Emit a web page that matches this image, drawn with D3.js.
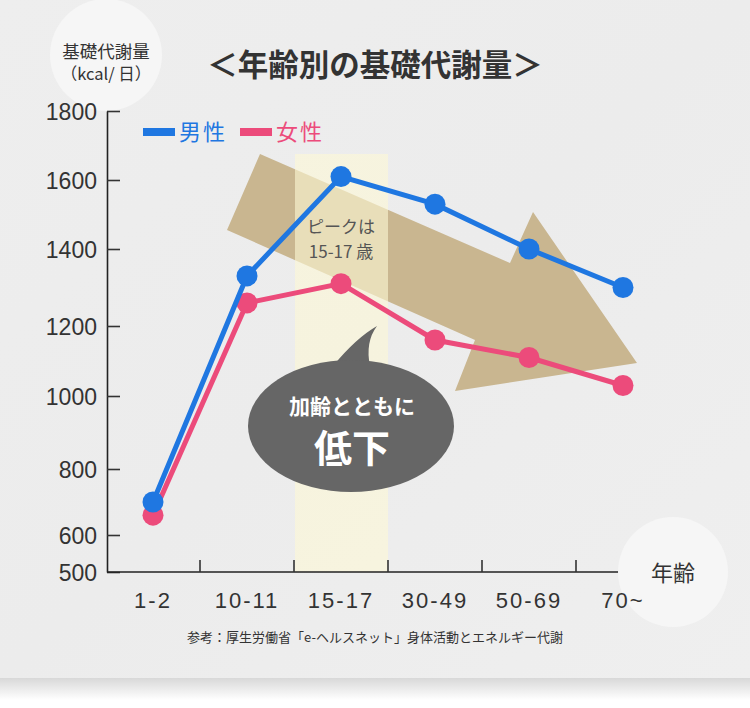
<!DOCTYPE html>
<html><head><meta charset="utf-8">
<script src="https://cdn.jsdelivr.net/npm/d3@7"></script>
<style>
html,body{margin:0;padding:0;background:#fff;}
svg{display:block;}
</style></head>
<body>
<svg id="chart" width="750" height="708"></svg>
<script>
const categories = ["1-2", "10-11", "15-17", "30-49", "50-69", "70~"];
const maleValues = [700, 1330, 1610, 1530, 1400, 1300];
const femaleValues = [660, 1260, 1310, 1160, 1110, 1030];
const yTicks = [500, 600, 800, 1000, 1200, 1400, 1600, 1800];
const seriesNames = ["男性", "女性"];
const peakCategory = "15-17";

const JP = "'Noto Sans CJK JP','Noto Sans',sans-serif";
const NUM = "'Liberation Sans',Arial,'Noto Sans CJK JP',sans-serif";
const BLUE = "#1f77e1", PINK = "#ec4b7b";

const svg = d3.select("#chart");
const defs = svg.append("defs");
const sh = defs.append("linearGradient").attr("id","shadow").attr("x1",0).attr("y1",0).attr("x2",0).attr("y2",1);
sh.append("stop").attr("offset","0").attr("stop-color","#d8d8d8");
sh.append("stop").attr("offset","1").attr("stop-color","#ffffff");
const bg = defs.append("linearGradient").attr("id","bg").attr("x1",0).attr("y1",0).attr("x2",1).attr("y2",1);
bg.append("stop").attr("offset","0").attr("stop-color","#eeeeee");
bg.append("stop").attr("offset","0.5").attr("stop-color","#ececec");
bg.append("stop").attr("offset","1").attr("stop-color","#efefef");

// background panel
svg.append("rect").attr("x",0).attr("y",0).attr("width",750).attr("height",708).attr("fill","#fff");
svg.append("rect").attr("x",0).attr("y",678).attr("width",750).attr("height",22).attr("fill","url(#shadow)");
svg.append("rect").attr("x",0).attr("y",0).attr("width",750).attr("height",678).attr("fill","url(#bg)");

// scales
const x = d3.scaleBand().domain(categories).range([106, 670]).paddingInner(0).paddingOuter(0);
const y = d3.scaleLinear().domain(yTicks).range([572, 535, 469, 396, 326, 249, 180, 111]);
const cx = c => x(c) + x.bandwidth()/2;

// top-left circle (behind axis labels)
svg.append("circle").attr("cx",106).attr("cy",55).attr("r",56).attr("fill","#f6f6f6");
svg.append("text").attr("x",106).attr("y",52).attr("dy","0.35em").attr("text-anchor","middle")
  .attr("fill","#333").style("font-family",JP).style("font-size","17.5px").text("基礎代謝量");
svg.append("text").attr("x",106).attr("y",74).attr("dy","0.35em").attr("text-anchor","middle")
  .attr("fill","#333").style("font-family",JP).style("font-size","16.5px").text("（kcal/ 日）");

// tan arrow
const arrowPts = [[260,154],[510,263],[533,212],[637,363],[455,391],[475,340],[227,230]];
svg.append("path").attr("d", d3.line()(arrowPts) + "Z").attr("fill","#c9b690");

// highlight band
svg.append("rect")
  .attr("x", x(peakCategory)+1).attr("y",154)
  .attr("width", x.bandwidth()-1).attr("height", y(500)-154)
  .attr("fill","#fdf9d6").attr("opacity",0.6);

// peak text
const pk = svg.append("text").attr("text-anchor","middle").attr("fill","#555")
  .style("font-family",JP).style("font-size","17px");
pk.append("tspan").attr("x",cx(peakCategory)).attr("y",233).text("ピークは");
pk.append("tspan").attr("x",cx(peakCategory)).attr("y",258).text("15-17 歳");

// y axis
const yAxis = d3.axisLeft(y).tickValues(yTicks).tickFormat(d3.format("d"))
  .tickSize(-13).tickSizeOuter(0).tickPadding(10);
const gy = svg.append("g").attr("transform","translate(107,0)").call(yAxis);
gy.select(".domain").attr("stroke","#222").attr("stroke-width",1.6);
gy.selectAll(".tick line").attr("stroke","#333").attr("stroke-width",1.6);
gy.selectAll(".tick text").attr("fill","#333").style("font-family",NUM).style("font-size","23px").attr("dy","0.36em");

// x axis line + ticks
const gx = svg.append("g");
gx.append("line").attr("x1",107).attr("x2",640).attr("y1",y(500)).attr("y2",y(500)).attr("stroke","#222").attr("stroke-width",1.6);
gx.selectAll("line.tk").data(categories.slice(1)).join("line").attr("class","tk")
  .attr("x1",d=>x(d)).attr("x2",d=>x(d)).attr("y1",y(500)).attr("y2",y(500)-12)
  .attr("stroke","#333").attr("stroke-width",1.6);

// lines
const line = d3.line().x((d,i)=>cx(categories[i])).y(d=>y(d));
[[femaleValues,PINK],[maleValues,BLUE]].forEach(([vals,col])=>{
  svg.append("path").datum(vals).attr("d",line).attr("fill","none").attr("stroke",col).attr("stroke-width",5);
  svg.append("g").selectAll("circle").data(vals).join("circle")
    .attr("cx",(d,i)=>cx(categories[i])).attr("cy",d=>y(d)).attr("r",10.5).attr("fill",col);
});

// legend
const legend = [[seriesNames[0],BLUE,143],[seriesNames[1],PINK,240]];
legend.forEach(([t,c,lx])=>{
  svg.append("rect").attr("x",lx).attr("y",128).attr("width",32).attr("height",8).attr("fill",c);
  svg.append("text").attr("x",lx+36).attr("y",132).attr("dy","0.35em").attr("fill",c)
    .style("font-family",JP).style("font-size","22px").style("letter-spacing","2px").text(t);
});

// title
svg.append("text").attr("x",375).attr("y",65).attr("dy","0.36em").attr("text-anchor","middle")
  .attr("fill","#333").style("font-family",JP).style("font-weight","bold").style("font-size","30.5px")
  .text("＜年齢別の基礎代謝量＞");

// bottom-right circle
svg.append("circle").attr("cx",673).attr("cy",572).attr("r",55).attr("fill","#f6f6f6");
svg.append("text").attr("x",673).attr("y",573).attr("dy","0.35em").attr("text-anchor","middle")
  .attr("fill","#333").style("font-family",JP).style("font-size","22px").text("年齢");

// x tick labels (drawn above the circle)
svg.append("g").selectAll("text").data(categories).join("text")
  .attr("x",d=>cx(d)).attr("y",608).attr("text-anchor","middle")
  .attr("fill","#333").style("font-family",NUM).style("font-size","22px").style("letter-spacing","2px")
  .text(d=>d);

// speech bubble
svg.append("path").attr("d","M333,366 Q356,338 377,326 Q365,342 370,366 Z").attr("fill","#666");
svg.append("ellipse").attr("cx",351).attr("cy",426).attr("rx",103).attr("ry",66).attr("fill","#666");
svg.append("text").attr("x",352).attr("y",406).attr("dy","0.36em").attr("text-anchor","middle")
  .attr("fill","#fff").style("font-family",JP).style("font-weight","bold").style("font-size","21px").text("加齢とともに");
svg.append("text").attr("x",352).attr("y",448).attr("dy","0.36em").attr("text-anchor","middle")
  .attr("fill","#fff").style("font-family",JP).style("font-weight","bold").style("font-size","38px").text("低下");

// footnote
svg.append("text").attr("x",375).attr("y",637).attr("dy","0.36em").attr("text-anchor","middle")
  .attr("fill","#333").style("font-family",JP).style("font-size","13px")
  .text("参考：厚生労働省「e-ヘルスネット」身体活動とエネルギー代謝");
</script>
</body></html>
